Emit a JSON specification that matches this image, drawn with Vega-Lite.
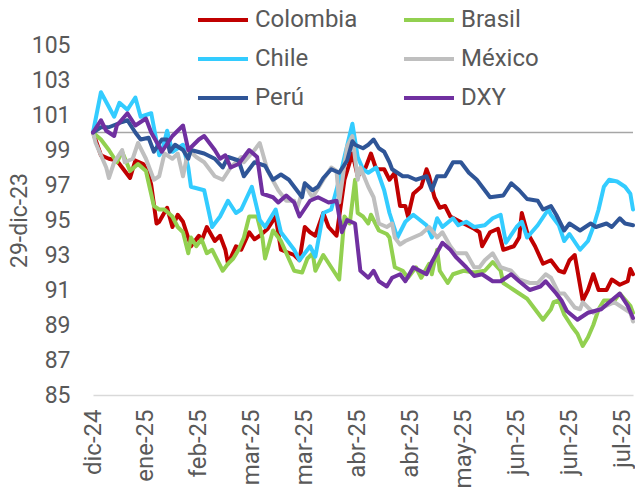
{
"$schema":"https://vega.github.io/schema/vega-lite/v6.json",
"width":540,"height":350,
"autosize":{"type":"none"},
"padding":{"left":93,"top":45,"right":2,"bottom":94},
"config":{"view":{"stroke":null},"font":"Roboto","axis":{"labelColor":"#595959","titleColor":"#595959","labelFont":"Roboto","titleFont":"Roboto","labelOverlap":false},"axisY":{"labelOverlap":false,"labelFontSize":23,"labelPadding":23,"ticks":false,"domain":false,"grid":false,"titleFontSize":23,"titleFontWeight":"normal","titlePadding":0}},
"layer":[
{"data":{"values":[{"y":100}]},"mark":{"type":"rule","color":"#A6A6A6","strokeWidth":1.5},
 "encoding":{"y":{"field":"y","type":"quantitative","title":"29-dic-23","scale":{"domain":[85,105]},"axis":{"values":[85,87,89,91,93,95,97,99,101,103,105],"labelOverlap":false}}}},
{"data":{"values":[
{"s":"Colombia","d":"2024-12-31","v":100},{"s":"Colombia","d":"2025-01-03","v":98.7},{"s":"Colombia","d":"2025-01-06","v":98.5},{"s":"Colombia","d":"2025-01-09","v":98.4},{"s":"Colombia","d":"2025-01-11","v":98.0},{"s":"Colombia","d":"2025-01-14","v":97.4},{"s":"Colombia","d":"2025-01-16","v":98.4},{"s":"Colombia","d":"2025-01-19","v":98.2},{"s":"Colombia","d":"2025-01-21","v":97.6},{"s":"Colombia","d":"2025-01-22","v":97.0},{"s":"Colombia","d":"2025-01-24","v":94.8},{"s":"Colombia","d":"2025-01-25","v":94.9},{"s":"Colombia","d":"2025-01-28","v":95.7},{"s":"Colombia","d":"2025-01-30","v":94.6},{"s":"Colombia","d":"2025-02-01","v":95.3},{"s":"Colombia","d":"2025-02-03","v":94.9},{"s":"Colombia","d":"2025-02-06","v":93.5},{"s":"Colombia","d":"2025-02-09","v":94.1},{"s":"Colombia","d":"2025-02-10","v":93.8},{"s":"Colombia","d":"2025-02-12","v":94.6},{"s":"Colombia","d":"2025-02-15","v":93.8},{"s":"Colombia","d":"2025-02-17","v":94.1},{"s":"Colombia","d":"2025-02-19","v":93.3},{"s":"Colombia","d":"2025-02-20","v":92.5},{"s":"Colombia","d":"2025-02-23","v":93.5},{"s":"Colombia","d":"2025-02-25","v":93.3},{"s":"Colombia","d":"2025-02-28","v":94.3},{"s":"Colombia","d":"2025-03-02","v":93.9},{"s":"Colombia","d":"2025-03-04","v":94.1},{"s":"Colombia","d":"2025-03-07","v":94.5},{"s":"Colombia","d":"2025-03-10","v":95.2},{"s":"Colombia","d":"2025-03-12","v":93.3},{"s":"Colombia","d":"2025-03-17","v":93.0},{"s":"Colombia","d":"2025-03-19","v":92.7},{"s":"Colombia","d":"2025-03-21","v":94.6},{"s":"Colombia","d":"2025-03-23","v":94.3},{"s":"Colombia","d":"2025-03-25","v":94.1},{"s":"Colombia","d":"2025-03-28","v":95.4},{"s":"Colombia","d":"2025-03-30","v":94.6},{"s":"Colombia","d":"2025-04-02","v":94.1},{"s":"Colombia","d":"2025-04-05","v":97.3},{"s":"Colombia","d":"2025-04-08","v":98.8},{"s":"Colombia","d":"2025-04-10","v":97.5},{"s":"Colombia","d":"2025-04-13","v":98.0},{"s":"Colombia","d":"2025-04-15","v":98.8},{"s":"Colombia","d":"2025-04-17","v":97.9},{"s":"Colombia","d":"2025-04-20","v":97.9},{"s":"Colombia","d":"2025-04-22","v":97.3},{"s":"Colombia","d":"2025-04-24","v":97.7},{"s":"Colombia","d":"2025-04-26","v":95.8},{"s":"Colombia","d":"2025-04-28","v":95.8},{"s":"Colombia","d":"2025-04-29","v":95.2},{"s":"Colombia","d":"2025-05-01","v":96.5},{"s":"Colombia","d":"2025-05-04","v":96.9},{"s":"Colombia","d":"2025-05-06","v":97.9},{"s":"Colombia","d":"2025-05-07","v":97.5},{"s":"Colombia","d":"2025-05-09","v":96.3},{"s":"Colombia","d":"2025-05-11","v":95.7},{"s":"Colombia","d":"2025-05-13","v":95.8},{"s":"Colombia","d":"2025-05-15","v":95.2},{"s":"Colombia","d":"2025-05-20","v":94.8},{"s":"Colombia","d":"2025-05-24","v":94.5},{"s":"Colombia","d":"2025-05-26","v":94.3},{"s":"Colombia","d":"2025-05-27","v":93.5},{"s":"Colombia","d":"2025-05-30","v":94.3},{"s":"Colombia","d":"2025-06-02","v":94.5},{"s":"Colombia","d":"2025-06-04","v":93.3},{"s":"Colombia","d":"2025-06-08","v":93.5},{"s":"Colombia","d":"2025-06-10","v":94.0},{"s":"Colombia","d":"2025-06-11","v":95.4},{"s":"Colombia","d":"2025-06-13","v":94.3},{"s":"Colombia","d":"2025-06-16","v":93.5},{"s":"Colombia","d":"2025-06-19","v":92.5},{"s":"Colombia","d":"2025-06-22","v":92.7},{"s":"Colombia","d":"2025-06-25","v":92.1},{"s":"Colombia","d":"2025-06-27","v":92.0},{"s":"Colombia","d":"2025-06-29","v":92.7},{"s":"Colombia","d":"2025-07-01","v":93.0},{"s":"Colombia","d":"2025-07-04","v":90.4},{"s":"Colombia","d":"2025-07-06","v":91.0},{"s":"Colombia","d":"2025-07-08","v":91.9},{"s":"Colombia","d":"2025-07-10","v":91.0},{"s":"Colombia","d":"2025-07-13","v":91.0},{"s":"Colombia","d":"2025-07-15","v":91.6},{"s":"Colombia","d":"2025-07-18","v":91.3},{"s":"Colombia","d":"2025-07-21","v":91.5},{"s":"Colombia","d":"2025-07-22","v":92.2},{"s":"Colombia","d":"2025-07-23","v":91.9},
{"s":"Brasil","d":"2024-12-31","v":100},{"s":"Brasil","d":"2025-01-03","v":99.6},{"s":"Brasil","d":"2025-01-06","v":99.0},{"s":"Brasil","d":"2025-01-09","v":98.3},{"s":"Brasil","d":"2025-01-11","v":98.9},{"s":"Brasil","d":"2025-01-14","v":97.8},{"s":"Brasil","d":"2025-01-17","v":98.2},{"s":"Brasil","d":"2025-01-20","v":97.8},{"s":"Brasil","d":"2025-01-23","v":95.8},{"s":"Brasil","d":"2025-01-25","v":95.6},{"s":"Brasil","d":"2025-01-27","v":95.6},{"s":"Brasil","d":"2025-01-30","v":95.2},{"s":"Brasil","d":"2025-02-01","v":94.6},{"s":"Brasil","d":"2025-02-03","v":94.3},{"s":"Brasil","d":"2025-02-05","v":93.1},{"s":"Brasil","d":"2025-02-06","v":94.0},{"s":"Brasil","d":"2025-02-08","v":93.5},{"s":"Brasil","d":"2025-02-10","v":93.9},{"s":"Brasil","d":"2025-02-12","v":93.1},{"s":"Brasil","d":"2025-02-14","v":93.3},{"s":"Brasil","d":"2025-02-18","v":92.1},{"s":"Brasil","d":"2025-02-20","v":92.5},{"s":"Brasil","d":"2025-02-22","v":92.8},{"s":"Brasil","d":"2025-02-24","v":93.3},{"s":"Brasil","d":"2025-02-26","v":94.0},{"s":"Brasil","d":"2025-02-28","v":95.2},{"s":"Brasil","d":"2025-03-03","v":95.2},{"s":"Brasil","d":"2025-03-05","v":94.0},{"s":"Brasil","d":"2025-03-06","v":92.8},{"s":"Brasil","d":"2025-03-09","v":94.4},{"s":"Brasil","d":"2025-03-12","v":93.8},{"s":"Brasil","d":"2025-03-17","v":92.1},{"s":"Brasil","d":"2025-03-20","v":92.0},{"s":"Brasil","d":"2025-03-22","v":92.8},{"s":"Brasil","d":"2025-03-24","v":93.1},{"s":"Brasil","d":"2025-03-25","v":92.1},{"s":"Brasil","d":"2025-03-28","v":93.0},{"s":"Brasil","d":"2025-03-31","v":92.3},{"s":"Brasil","d":"2025-04-03","v":91.6},{"s":"Brasil","d":"2025-04-05","v":95.2},{"s":"Brasil","d":"2025-04-07","v":94.8},{"s":"Brasil","d":"2025-04-09","v":97.3},{"s":"Brasil","d":"2025-04-10","v":95.4},{"s":"Brasil","d":"2025-04-12","v":95.2},{"s":"Brasil","d":"2025-04-14","v":94.8},{"s":"Brasil","d":"2025-04-15","v":95.3},{"s":"Brasil","d":"2025-04-18","v":94.4},{"s":"Brasil","d":"2025-04-21","v":94.2},{"s":"Brasil","d":"2025-04-22","v":94.0},{"s":"Brasil","d":"2025-04-24","v":92.3},{"s":"Brasil","d":"2025-04-27","v":92.1},{"s":"Brasil","d":"2025-04-29","v":91.7},{"s":"Brasil","d":"2025-05-02","v":92.3},{"s":"Brasil","d":"2025-05-04","v":91.7},{"s":"Brasil","d":"2025-05-07","v":92.5},{"s":"Brasil","d":"2025-05-08","v":91.9},{"s":"Brasil","d":"2025-05-10","v":93.3},{"s":"Brasil","d":"2025-05-11","v":92.1},{"s":"Brasil","d":"2025-05-14","v":91.4},{"s":"Brasil","d":"2025-05-16","v":91.9},{"s":"Brasil","d":"2025-05-20","v":92.1},{"s":"Brasil","d":"2025-05-24","v":92.0},{"s":"Brasil","d":"2025-05-28","v":92.1},{"s":"Brasil","d":"2025-05-31","v":92.6},{"s":"Brasil","d":"2025-06-03","v":92.1},{"s":"Brasil","d":"2025-06-04","v":91.4},{"s":"Brasil","d":"2025-06-08","v":91.0},{"s":"Brasil","d":"2025-06-10","v":90.8},{"s":"Brasil","d":"2025-06-13","v":90.5},{"s":"Brasil","d":"2025-06-15","v":90.1},{"s":"Brasil","d":"2025-06-17","v":89.7},{"s":"Brasil","d":"2025-06-19","v":89.3},{"s":"Brasil","d":"2025-06-22","v":89.9},{"s":"Brasil","d":"2025-06-23","v":90.3},{"s":"Brasil","d":"2025-06-25","v":90.4},{"s":"Brasil","d":"2025-06-27","v":89.6},{"s":"Brasil","d":"2025-06-30","v":88.9},{"s":"Brasil","d":"2025-07-02","v":88.5},{"s":"Brasil","d":"2025-07-04","v":87.8},{"s":"Brasil","d":"2025-07-06","v":88.3},{"s":"Brasil","d":"2025-07-08","v":89.0},{"s":"Brasil","d":"2025-07-10","v":89.9},{"s":"Brasil","d":"2025-07-12","v":90.4},{"s":"Brasil","d":"2025-07-16","v":90.4},{"s":"Brasil","d":"2025-07-18","v":90.8},{"s":"Brasil","d":"2025-07-22","v":90.1},{"s":"Brasil","d":"2025-07-23","v":89.7},
{"s":"Chile","d":"2024-12-31","v":100},{"s":"Chile","d":"2025-01-03","v":102.3},{"s":"Chile","d":"2025-01-08","v":100.9},{"s":"Chile","d":"2025-01-10","v":101.7},{"s":"Chile","d":"2025-01-13","v":101.3},{"s":"Chile","d":"2025-01-16","v":102.0},{"s":"Chile","d":"2025-01-18","v":100.9},{"s":"Chile","d":"2025-01-22","v":101.1},{"s":"Chile","d":"2025-01-25","v":98.7},{"s":"Chile","d":"2025-01-26","v":98.9},{"s":"Chile","d":"2025-01-28","v":100.1},{"s":"Chile","d":"2025-01-30","v":98.9},{"s":"Chile","d":"2025-02-03","v":99.3},{"s":"Chile","d":"2025-02-05","v":98.0},{"s":"Chile","d":"2025-02-06","v":96.9},{"s":"Chile","d":"2025-02-11","v":96.7},{"s":"Chile","d":"2025-02-14","v":94.6},{"s":"Chile","d":"2025-02-17","v":95.2},{"s":"Chile","d":"2025-02-20","v":96.1},{"s":"Chile","d":"2025-02-23","v":95.4},{"s":"Chile","d":"2025-02-25","v":95.6},{"s":"Chile","d":"2025-03-01","v":96.9},{"s":"Chile","d":"2025-03-04","v":95.0},{"s":"Chile","d":"2025-03-06","v":94.6},{"s":"Chile","d":"2025-03-10","v":95.6},{"s":"Chile","d":"2025-03-12","v":94.3},{"s":"Chile","d":"2025-03-17","v":93.3},{"s":"Chile","d":"2025-03-19","v":92.7},{"s":"Chile","d":"2025-03-23","v":93.5},{"s":"Chile","d":"2025-03-25","v":92.9},{"s":"Chile","d":"2025-03-28","v":95.4},{"s":"Chile","d":"2025-03-31","v":95.6},{"s":"Chile","d":"2025-04-03","v":97.3},{"s":"Chile","d":"2025-04-05","v":98.6},{"s":"Chile","d":"2025-04-08","v":100.5},{"s":"Chile","d":"2025-04-10","v":98.6},{"s":"Chile","d":"2025-04-12","v":97.9},{"s":"Chile","d":"2025-04-14","v":97.7},{"s":"Chile","d":"2025-04-17","v":98.0},{"s":"Chile","d":"2025-04-20","v":96.7},{"s":"Chile","d":"2025-04-22","v":95.4},{"s":"Chile","d":"2025-04-25","v":94.0},{"s":"Chile","d":"2025-04-28","v":94.9},{"s":"Chile","d":"2025-05-01","v":95.3},{"s":"Chile","d":"2025-05-06","v":94.7},{"s":"Chile","d":"2025-05-08","v":94.0},{"s":"Chile","d":"2025-05-10","v":95.1},{"s":"Chile","d":"2025-05-12","v":94.6},{"s":"Chile","d":"2025-05-16","v":95.1},{"s":"Chile","d":"2025-05-18","v":94.7},{"s":"Chile","d":"2025-05-21","v":94.9},{"s":"Chile","d":"2025-05-24","v":94.6},{"s":"Chile","d":"2025-05-28","v":94.7},{"s":"Chile","d":"2025-05-31","v":95.1},{"s":"Chile","d":"2025-06-03","v":95.3},{"s":"Chile","d":"2025-06-05","v":93.7},{"s":"Chile","d":"2025-06-09","v":94.6},{"s":"Chile","d":"2025-06-11","v":94.9},{"s":"Chile","d":"2025-06-13","v":94.0},{"s":"Chile","d":"2025-06-17","v":94.7},{"s":"Chile","d":"2025-06-21","v":95.6},{"s":"Chile","d":"2025-06-22","v":95.3},{"s":"Chile","d":"2025-06-25","v":94.7},{"s":"Chile","d":"2025-06-27","v":93.8},{"s":"Chile","d":"2025-06-29","v":94.2},{"s":"Chile","d":"2025-07-03","v":93.3},{"s":"Chile","d":"2025-07-06","v":93.8},{"s":"Chile","d":"2025-07-08","v":94.6},{"s":"Chile","d":"2025-07-10","v":95.6},{"s":"Chile","d":"2025-07-12","v":96.9},{"s":"Chile","d":"2025-07-14","v":97.3},{"s":"Chile","d":"2025-07-17","v":97.2},{"s":"Chile","d":"2025-07-20","v":96.9},{"s":"Chile","d":"2025-07-22","v":96.5},{"s":"Chile","d":"2025-07-23","v":95.6},
{"s":"México","d":"2024-12-31","v":100},{"s":"México","d":"2025-01-01","v":99.4},{"s":"México","d":"2025-01-05","v":98.0},{"s":"México","d":"2025-01-06","v":97.4},{"s":"México","d":"2025-01-08","v":98.3},{"s":"México","d":"2025-01-11","v":99.0},{"s":"México","d":"2025-01-12","v":98.3},{"s":"México","d":"2025-01-15","v":98.5},{"s":"México","d":"2025-01-17","v":99.4},{"s":"México","d":"2025-01-20","v":98.5},{"s":"México","d":"2025-01-23","v":97.3},{"s":"México","d":"2025-01-25","v":97.5},{"s":"México","d":"2025-01-27","v":98.8},{"s":"México","d":"2025-01-30","v":98.5},{"s":"México","d":"2025-02-01","v":98.8},{"s":"México","d":"2025-02-03","v":97.5},{"s":"México","d":"2025-02-05","v":99.0},{"s":"México","d":"2025-02-08","v":98.6},{"s":"México","d":"2025-02-11","v":98.3},{"s":"México","d":"2025-02-15","v":97.5},{"s":"México","d":"2025-02-18","v":97.3},{"s":"México","d":"2025-02-21","v":98.0},{"s":"México","d":"2025-02-25","v":98.6},{"s":"México","d":"2025-02-26","v":98.3},{"s":"México","d":"2025-03-02","v":99.0},{"s":"México","d":"2025-03-04","v":99.4},{"s":"México","d":"2025-03-07","v":97.8},{"s":"México","d":"2025-03-11","v":96.7},{"s":"México","d":"2025-03-14","v":96.1},{"s":"México","d":"2025-03-17","v":96.1},{"s":"México","d":"2025-03-18","v":95.6},{"s":"México","d":"2025-03-21","v":97.1},{"s":"México","d":"2025-03-23","v":96.5},{"s":"México","d":"2025-03-24","v":96.3},{"s":"México","d":"2025-03-28","v":97.3},{"s":"México","d":"2025-03-31","v":98.0},{"s":"México","d":"2025-04-02","v":97.8},{"s":"México","d":"2025-04-03","v":96.0},{"s":"México","d":"2025-04-06","v":99.2},{"s":"México","d":"2025-04-08","v":99.8},{"s":"México","d":"2025-04-10","v":97.3},{"s":"México","d":"2025-04-11","v":98.0},{"s":"México","d":"2025-04-14","v":96.9},{"s":"México","d":"2025-04-16","v":96.3},{"s":"México","d":"2025-04-18","v":94.8},{"s":"México","d":"2025-04-21","v":94.6},{"s":"México","d":"2025-04-23","v":94.8},{"s":"México","d":"2025-04-24","v":94.0},{"s":"México","d":"2025-04-26","v":93.6},{"s":"México","d":"2025-04-28","v":93.8},{"s":"México","d":"2025-05-01","v":94.0},{"s":"México","d":"2025-05-04","v":94.2},{"s":"México","d":"2025-05-07","v":94.6},{"s":"México","d":"2025-05-10","v":94.0},{"s":"México","d":"2025-05-12","v":94.3},{"s":"México","d":"2025-05-15","v":93.5},{"s":"México","d":"2025-05-17","v":93.1},{"s":"México","d":"2025-05-21","v":93.1},{"s":"México","d":"2025-05-24","v":92.3},{"s":"México","d":"2025-05-26","v":92.3},{"s":"México","d":"2025-05-28","v":92.7},{"s":"México","d":"2025-05-31","v":93.1},{"s":"México","d":"2025-06-03","v":92.3},{"s":"México","d":"2025-06-07","v":92.1},{"s":"México","d":"2025-06-10","v":91.6},{"s":"México","d":"2025-06-14","v":91.4},{"s":"México","d":"2025-06-17","v":91.4},{"s":"México","d":"2025-06-20","v":91.9},{"s":"México","d":"2025-06-22","v":91.7},{"s":"México","d":"2025-06-25","v":90.8},{"s":"México","d":"2025-06-27","v":90.8},{"s":"México","d":"2025-06-29","v":90.4},{"s":"México","d":"2025-07-01","v":90.0},{"s":"México","d":"2025-07-03","v":89.9},{"s":"México","d":"2025-07-04","v":90.3},{"s":"México","d":"2025-07-08","v":89.7},{"s":"México","d":"2025-07-10","v":89.9},{"s":"México","d":"2025-07-13","v":90.1},{"s":"México","d":"2025-07-16","v":90.3},{"s":"México","d":"2025-07-20","v":89.9},{"s":"México","d":"2025-07-22","v":89.7},{"s":"México","d":"2025-07-23","v":89.2},
{"s":"Perú","d":"2024-12-31","v":100},{"s":"Perú","d":"2025-01-03","v":100.3},{"s":"Perú","d":"2025-01-06","v":100.3},{"s":"Perú","d":"2025-01-11","v":100.6},{"s":"Perú","d":"2025-01-13","v":100.7},{"s":"Perú","d":"2025-01-16","v":100.0},{"s":"Perú","d":"2025-01-18","v":99.6},{"s":"Perú","d":"2025-01-21","v":99.7},{"s":"Perú","d":"2025-01-23","v":98.9},{"s":"Perú","d":"2025-01-26","v":99.6},{"s":"Perú","d":"2025-01-28","v":99.6},{"s":"Perú","d":"2025-01-29","v":98.9},{"s":"Perú","d":"2025-01-31","v":99.3},{"s":"Perú","d":"2025-02-03","v":99.0},{"s":"Perú","d":"2025-02-05","v":98.5},{"s":"Perú","d":"2025-02-06","v":99.0},{"s":"Perú","d":"2025-02-11","v":98.8},{"s":"Perú","d":"2025-02-15","v":98.5},{"s":"Perú","d":"2025-02-18","v":98.0},{"s":"Perú","d":"2025-02-20","v":98.6},{"s":"Perú","d":"2025-02-24","v":98.4},{"s":"Perú","d":"2025-02-26","v":97.5},{"s":"Perú","d":"2025-03-02","v":98.3},{"s":"Perú","d":"2025-03-06","v":98.1},{"s":"Perú","d":"2025-03-09","v":97.3},{"s":"Perú","d":"2025-03-12","v":97.6},{"s":"Perú","d":"2025-03-15","v":97.3},{"s":"Perú","d":"2025-03-18","v":96.7},{"s":"Perú","d":"2025-03-20","v":96.3},{"s":"Perú","d":"2025-03-21","v":97.1},{"s":"Perú","d":"2025-03-24","v":96.7},{"s":"Perú","d":"2025-03-26","v":96.9},{"s":"Perú","d":"2025-03-28","v":97.4},{"s":"Perú","d":"2025-03-31","v":97.9},{"s":"Perú","d":"2025-04-03","v":97.7},{"s":"Perú","d":"2025-04-06","v":98.4},{"s":"Perú","d":"2025-04-08","v":99.5},{"s":"Perú","d":"2025-04-09","v":99.3},{"s":"Perú","d":"2025-04-12","v":99.1},{"s":"Perú","d":"2025-04-14","v":99.3},{"s":"Perú","d":"2025-04-16","v":99.6},{"s":"Perú","d":"2025-04-18","v":99.1},{"s":"Perú","d":"2025-04-20","v":98.9},{"s":"Perú","d":"2025-04-22","v":98.3},{"s":"Perú","d":"2025-04-23","v":97.9},{"s":"Perú","d":"2025-04-27","v":97.5},{"s":"Perú","d":"2025-04-29","v":97.5},{"s":"Perú","d":"2025-05-02","v":97.3},{"s":"Perú","d":"2025-05-06","v":97.5},{"s":"Perú","d":"2025-05-08","v":96.7},{"s":"Perú","d":"2025-05-10","v":97.5},{"s":"Perú","d":"2025-05-13","v":97.5},{"s":"Perú","d":"2025-05-16","v":98.3},{"s":"Perú","d":"2025-05-19","v":98.3},{"s":"Perú","d":"2025-05-22","v":97.7},{"s":"Perú","d":"2025-05-25","v":97.3},{"s":"Perú","d":"2025-05-27","v":96.9},{"s":"Perú","d":"2025-05-30","v":96.3},{"s":"Perú","d":"2025-06-04","v":96.4},{"s":"Perú","d":"2025-06-07","v":97.1},{"s":"Perú","d":"2025-06-10","v":96.7},{"s":"Perú","d":"2025-06-13","v":96.2},{"s":"Perú","d":"2025-06-17","v":96.1},{"s":"Perú","d":"2025-06-19","v":95.6},{"s":"Perú","d":"2025-06-22","v":95.8},{"s":"Perú","d":"2025-06-24","v":95.3},{"s":"Perú","d":"2025-06-27","v":94.4},{"s":"Perú","d":"2025-06-29","v":94.8},{"s":"Perú","d":"2025-07-01","v":94.6},{"s":"Perú","d":"2025-07-03","v":94.4},{"s":"Perú","d":"2025-07-07","v":94.8},{"s":"Perú","d":"2025-07-09","v":94.6},{"s":"Perú","d":"2025-07-13","v":94.8},{"s":"Perú","d":"2025-07-15","v":94.6},{"s":"Perú","d":"2025-07-18","v":95.1},{"s":"Perú","d":"2025-07-20","v":94.8},{"s":"Perú","d":"2025-07-23","v":94.7},
{"s":"DXY","d":"2024-12-31","v":100},{"s":"DXY","d":"2025-01-03","v":100.7},{"s":"DXY","d":"2025-01-05","v":100.1},{"s":"DXY","d":"2025-01-08","v":99.8},{"s":"DXY","d":"2025-01-09","v":100.4},{"s":"DXY","d":"2025-01-13","v":101.1},{"s":"DXY","d":"2025-01-16","v":100.4},{"s":"DXY","d":"2025-01-20","v":100.8},{"s":"DXY","d":"2025-01-22","v":100.0},{"s":"DXY","d":"2025-01-25","v":99.2},{"s":"DXY","d":"2025-01-26","v":98.9},{"s":"DXY","d":"2025-01-30","v":99.8},{"s":"DXY","d":"2025-02-03","v":100.4},{"s":"DXY","d":"2025-02-05","v":99.0},{"s":"DXY","d":"2025-02-09","v":99.6},{"s":"DXY","d":"2025-02-11","v":99.8},{"s":"DXY","d":"2025-02-15","v":99.0},{"s":"DXY","d":"2025-02-17","v":98.5},{"s":"DXY","d":"2025-02-19","v":98.7},{"s":"DXY","d":"2025-02-21","v":98.0},{"s":"DXY","d":"2025-02-24","v":98.2},{"s":"DXY","d":"2025-02-28","v":99.0},{"s":"DXY","d":"2025-03-03","v":98.6},{"s":"DXY","d":"2025-03-05","v":96.5},{"s":"DXY","d":"2025-03-09","v":96.3},{"s":"DXY","d":"2025-03-11","v":96.0},{"s":"DXY","d":"2025-03-14","v":96.4},{"s":"DXY","d":"2025-03-17","v":96.0},{"s":"DXY","d":"2025-03-19","v":95.2},{"s":"DXY","d":"2025-03-23","v":96.1},{"s":"DXY","d":"2025-03-26","v":96.3},{"s":"DXY","d":"2025-03-30","v":96.0},{"s":"DXY","d":"2025-04-02","v":96.1},{"s":"DXY","d":"2025-04-04","v":94.3},{"s":"DXY","d":"2025-04-06","v":95.0},{"s":"DXY","d":"2025-04-09","v":94.8},{"s":"DXY","d":"2025-04-11","v":92.1},{"s":"DXY","d":"2025-04-14","v":91.7},{"s":"DXY","d":"2025-04-16","v":92.1},{"s":"DXY","d":"2025-04-18","v":91.5},{"s":"DXY","d":"2025-04-21","v":91.2},{"s":"DXY","d":"2025-04-23","v":91.7},{"s":"DXY","d":"2025-04-26","v":91.9},{"s":"DXY","d":"2025-04-28","v":91.5},{"s":"DXY","d":"2025-05-01","v":92.3},{"s":"DXY","d":"2025-05-06","v":91.9},{"s":"DXY","d":"2025-05-08","v":92.6},{"s":"DXY","d":"2025-05-12","v":93.7},{"s":"DXY","d":"2025-05-15","v":93.3},{"s":"DXY","d":"2025-05-17","v":92.9},{"s":"DXY","d":"2025-05-21","v":92.3},{"s":"DXY","d":"2025-05-24","v":91.8},{"s":"DXY","d":"2025-05-27","v":91.9},{"s":"DXY","d":"2025-05-31","v":91.5},{"s":"DXY","d":"2025-06-03","v":91.5},{"s":"DXY","d":"2025-06-07","v":91.9},{"s":"DXY","d":"2025-06-10","v":91.5},{"s":"DXY","d":"2025-06-14","v":91.0},{"s":"DXY","d":"2025-06-18","v":91.2},{"s":"DXY","d":"2025-06-20","v":91.5},{"s":"DXY","d":"2025-06-24","v":90.8},{"s":"DXY","d":"2025-06-26","v":90.4},{"s":"DXY","d":"2025-06-28","v":89.8},{"s":"DXY","d":"2025-07-02","v":89.3},{"s":"DXY","d":"2025-07-06","v":89.7},{"s":"DXY","d":"2025-07-11","v":89.9},{"s":"DXY","d":"2025-07-14","v":90.3},{"s":"DXY","d":"2025-07-18","v":90.8},{"s":"DXY","d":"2025-07-21","v":90.1},{"s":"DXY","d":"2025-07-23","v":89.4}
]},
 "mark":{"type":"line","strokeWidth":4,"strokeJoin":"round","strokeCap":"round"},
 "encoding":{
  "x":{"field":"d","type":"temporal","scale":{"type":"utc","domain":[{"year":2024,"month":12,"date":31,"utc":true},{"year":2025,"month":7,"date":23,"utc":true}]},
   "axis":{"title":null,"values":[{"year":2024,"month":12,"date":31,"utc":true},{"year":2025,"month":1,"date":20,"utc":true},{"year":2025,"month":2,"date":9,"utc":true},{"year":2025,"month":3,"date":1,"utc":true},{"year":2025,"month":3,"date":21,"utc":true},{"year":2025,"month":4,"date":10,"utc":true},{"year":2025,"month":4,"date":30,"utc":true},{"year":2025,"month":5,"date":20,"utc":true},{"year":2025,"month":6,"date":9,"utc":true},{"year":2025,"month":6,"date":29,"utc":true},{"year":2025,"month":7,"date":19,"utc":true}],
    "labelExpr":"['ene','feb','mar','abr','may','jun','jul','ago','sep','oct','nov','dic'][utcmonth(datum.value)] + '-' + utcFormat(datum.value, '%y')",
    "labelAngle":-90,"labelFontSize":24,"labelPadding":14,"ticks":false,"grid":false,"domainColor":"#D9D9D9","domainWidth":1.5,"labelOverlap":false,"labelBound":false,"labelFlush":false}},
  "y":{"field":"v","type":"quantitative","title":"29-dic-23","scale":{"domain":[85,105]},
   "axis":{"values":[85,87,89,91,93,95,97,99,101,103,105],"labelOverlap":false}},
  "color":{"field":"s","type":"nominal","scale":{"domain":["Colombia","Brasil","Chile","México","Perú","DXY"],"range":["#C00000","#92D050","#33CCFF","#BFBFBF","#2F5597","#7030A0"]},
   "legend":{"title":null,"orient":"none","direction":"horizontal","legendX":103,"legendY":-52,"columns":2,"symbolType":"stroke","symbolSize":2500,"symbolStrokeWidth":4,"labelFontSize":24,"labelColor":"#595959","labelOffset":5,"columnPadding":38,"rowPadding":-17,"padding":0,"labelFont":"Roboto"}}
 }}
]
}
